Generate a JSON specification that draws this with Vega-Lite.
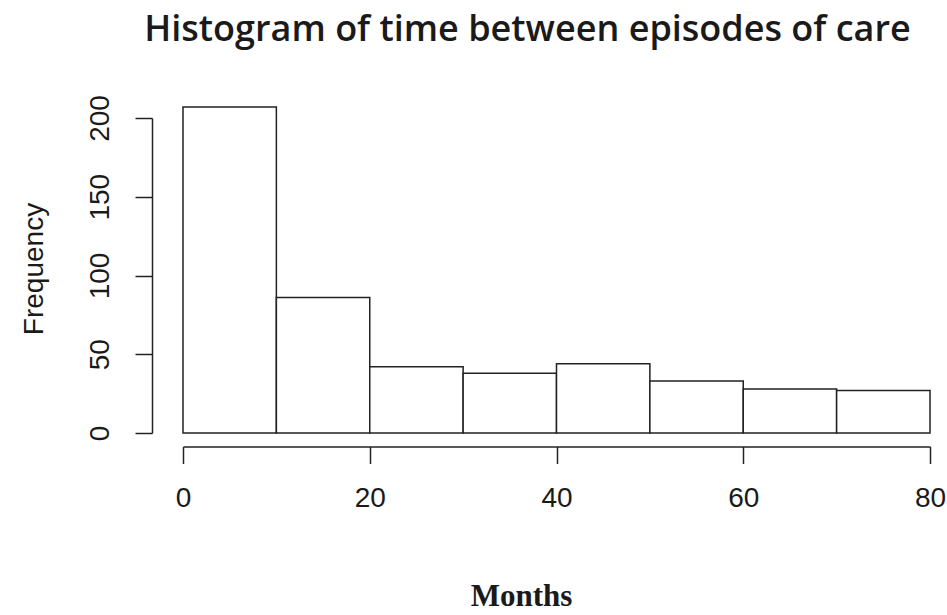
{
  "$schema": "https://vega.github.io/schema/vega-lite/v6.json",
  "width": 747,
  "height": 315,
  "autosize": "none",
  "padding": {"left": 183, "top": 118, "right": 17, "bottom": 182},
  "background": "white",
  "config": {
    "view": {"stroke": null},
    "axis": {"grid": false}
  },
  "title": {
    "text": "Histogram of time between episodes of care",
    "frame": "group",
    "anchor": "middle",
    "dx": -29,
    "offset": 46,
    "font": "Open Sans",
    "fontWeight": 600,
    "fontSize": 36,
    "color": "#1a1a1a"
  },
  "data": {
    "values": [
      {"start": 0, "end": 10, "count": 207},
      {"start": 10, "end": 20, "count": 86},
      {"start": 20, "end": 30, "count": 42},
      {"start": 30, "end": 40, "count": 38},
      {"start": 40, "end": 50, "count": 44},
      {"start": 50, "end": 60, "count": 33},
      {"start": 60, "end": 70, "count": 28},
      {"start": 70, "end": 80, "count": 27}
    ]
  },
  "mark": {"type": "bar", "fill": "white", "stroke": "#222222", "strokeWidth": 1.5},
  "encoding": {
    "x": {
      "field": "start",
      "type": "quantitative",
      "scale": {"domain": [0, 80], "nice": false, "zero": false},
      "axis": {
        "values": [0, 20, 40, 60, 80],
        "offset": 13.5,
        "tickSize": 17,
        "tickWidth": 1.5,
        "tickColor": "#222222",
        "domainColor": "#222222",
        "domainWidth": 1.5,
        "labelFont": "Liberation Sans",
        "labelFontSize": 28,
        "labelColor": "#1a1a1a",
        "labelPadding": 21,
        "labelFlush": false,
        "labelOverlap": false,
        "title": "Months",
        "titleFont": "Liberation Serif",
        "titleFontWeight": "bold",
        "titleFontSize": 31,
        "titleColor": "#1a1a1a",
        "titleAnchor": "start",
        "titleAlign": "center",
        "titleBaseline": "alphabetic",
        "titleX": 338,
        "titleY": 159
      }
    },
    "x2": {"field": "end"},
    "y": {
      "field": "count",
      "type": "quantitative",
      "scale": {"domain": [0, 200], "nice": false},
      "axis": {
        "values": [0, 50, 100, 150, 200],
        "offset": 31,
        "tickSize": 17,
        "tickWidth": 1.5,
        "tickColor": "#222222",
        "domainColor": "#222222",
        "domainWidth": 1.5,
        "labelFont": "Liberation Sans",
        "labelFontSize": 28,
        "labelColor": "#1a1a1a",
        "labelAngle": -90,
        "labelAlign": "center",
        "labelBaseline": "alphabetic",
        "labelPadding": 27,
        "labelFlush": false,
        "labelOverlap": false,
        "title": "Frequency",
        "titleFont": "Liberation Sans",
        "titleFontWeight": "normal",
        "titleFontSize": 28,
        "titleColor": "#1a1a1a",
        "titleAngle": -90,
        "titleAlign": "center",
        "titleBaseline": "alphabetic",
        "titleX": -110,
        "titleY": 150.5
      }
    },
    "y2": {"datum": 0}
  }
}
